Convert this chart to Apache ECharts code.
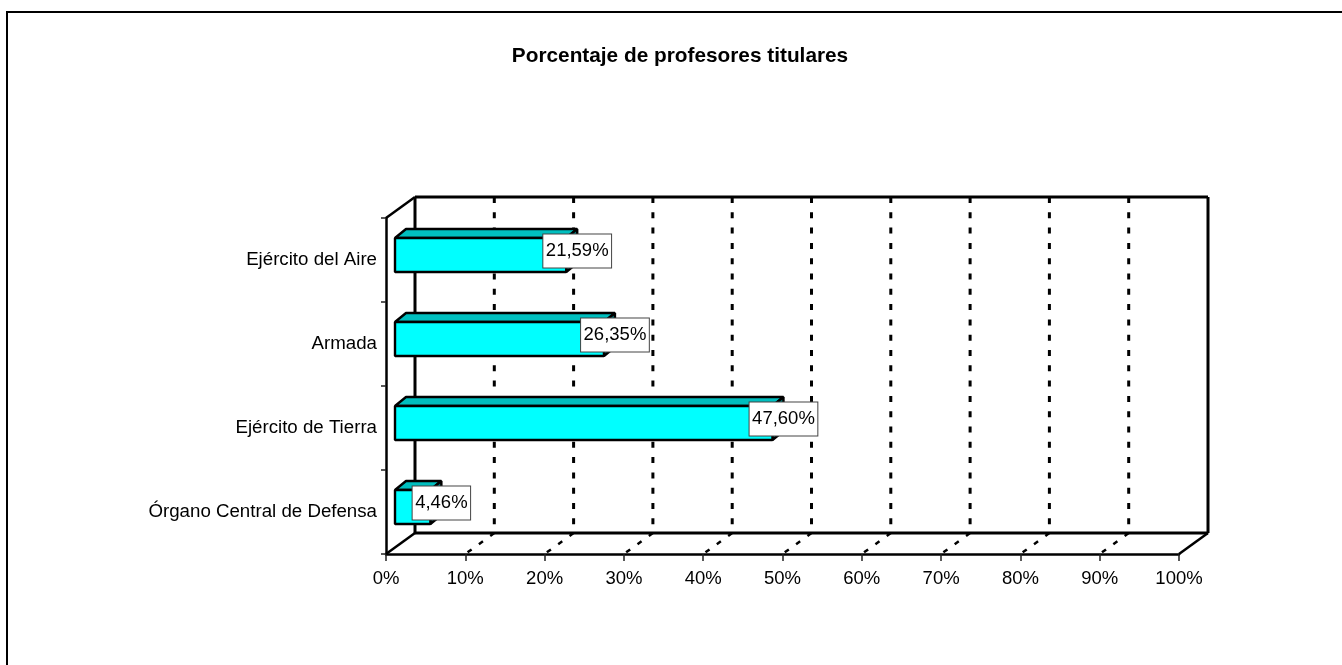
<!DOCTYPE html>
<html><head><meta charset="utf-8">
<style>html,body{margin:0;padding:0;background:#fff}#c{width:1342px;height:665px}</style>
<script src="https://cdn.jsdelivr.net/npm/echarts@6/dist/echarts.min.js"></script>
</head><body><div id="c"></div>
<script>
const categories = ['Órgano Central de Defensa','Ejército de Tierra','Armada','Ejército del Aire'];
const values = [4.46,47.60,26.35,21.59];
const tickValues = [0,10,20,30,40,50,60,70,80,90,100];
const titleText = 'Porcentaje de profesores titulares';

const FONT = '"Liberation Sans", Arial, sans-serif';
const FS = 18.5;
const WALL_DX = 29, WALL_DY = -21;
const BAR_X0 = 9, BAR_DY = -5, BAR_DDX = 11, BAR_DDY = -9;

const chart = echarts.init(document.getElementById('c'), null, {renderer:'canvas'});

function wallItem(params, api){
  const cs = params.coordSys;
  const v = api.value(0);
  const x = api.coord([v,0])[0];
  const top = cs.y, bot = cs.y + cs.height;
  const bx = x + WALL_DX, bTop = top + WALL_DY, bBot = bot + WALL_DY;
  const edge = v === 0 || v === 100;
  const children = [];
  const line = (x1,y1,x2,y2,w,dash) => children.push({type:'line',shape:{x1,y1,x2,y2},
    style:{stroke:'#000',lineWidth:w,lineDash:dash||null,lineCap:'butt'}});
  line(bx,bTop,bx,bBot,3,edge?null:[6,9.3]);
  line(bx,bBot,x,bot,2.5,edge?null:[5,9]);
  if(v === 0){
    const right = x + cs.width + WALL_DX;
    line(bx,bTop,right,bTop,3);
    line(bx,bBot,right,bBot,3);
    line(x,top,bx,bTop,2.5);
  }
  return {type:'group',children};
}

function barItem(params, api){
  const val = api.value(0), cat = api.value(1);
  const h = api.size([0,1])[1] * 0.405;
  const s = api.coord([0,cat]), e = api.coord([val,cat]);
  const x0 = s[0] + BAR_X0, x1 = e[0] + BAR_X0;
  const yc = s[1] + BAR_DY, y0 = yc - h/2, y1 = yc + h/2;
  const st = (fill)=>({fill,stroke:'#000',lineWidth:2.4,lineJoin:'bevel'});
  const dx = BAR_DDX, dy = BAR_DDY;
  return {type:'group',children:[
    {type:'polygon',shape:{points:[[x0,y0],[x0+dx,y0+dy],[x1+dx,y0+dy],[x1,y0]]},style:st('#00BFBF')},
    {type:'polygon',shape:{points:[[x1,y0],[x1+dx,y0+dy],[x1+dx,y1+dy],[x1,y1]]},style:st('#008080')},
    {type:'rect',shape:{x:x0,y:y0,width:x1-x0,height:y1-y0},style:st('#00FFFF')},
    {type:'text',z2:50,style:{x:x1+dx,y:yc-4,text:val.toFixed(2).replace('.',',')+'%',
      align:'center',verticalAlign:'middle',fill:'#000',font:FS+'px '+FONT,
      backgroundColor:'#fff',borderColor:'#444',borderWidth:1,padding:[7,2.5,7,2.5]}}
  ]};
}

chart.setOption({
  animation:false,
  backgroundColor:'#fff',
  title:{text:titleText,left:675,top:41,textAlign:'center',
    textStyle:{fontFamily:FONT,fontSize:20.8,fontWeight:'bold',color:'#000'}},
  grid:{left:386,top:218,width:793,height:336,containLabel:false},
  xAxis:{type:'value',min:0,max:100,interval:10,
    axisLine:{show:true,lineStyle:{color:'#000',width:2.5}},
    axisTick:{show:true,length:7,lineStyle:{color:'#222',width:1.5}},
    splitLine:{show:false},
    axisLabel:{formatter:'{value}%',fontFamily:FONT,fontSize:FS,color:'#000',margin:15}},
  yAxis:{type:'category',data:categories,
    axisLine:{show:true,lineStyle:{color:'#000',width:2.5}},
    axisTick:{show:true,length:5,lineStyle:{color:'#222',width:1.5}},
    axisLabel:{fontFamily:FONT,fontSize:18.7,color:'#000',margin:9,padding:[8,0,4,0],lineHeight:22}},
  graphic:[{type:'polyline',silent:true,z:-1,shape:{points:[[7,680],[7,12],[1360,12]]},
    style:{fill:null,stroke:'#000',lineWidth:2}}],
  series:[
    {type:'custom',coordinateSystem:'cartesian2d',z:1,silent:true,clip:false,
     data:tickValues.map(v=>[v,0]),renderItem:wallItem,encode:{x:0,y:1}},
    {type:'custom',coordinateSystem:'cartesian2d',z:5,silent:true,clip:false,
     data:values.map((v,i)=>[v,i]),renderItem:barItem,encode:{x:0,y:1}}
  ]
});
</script></body></html>
